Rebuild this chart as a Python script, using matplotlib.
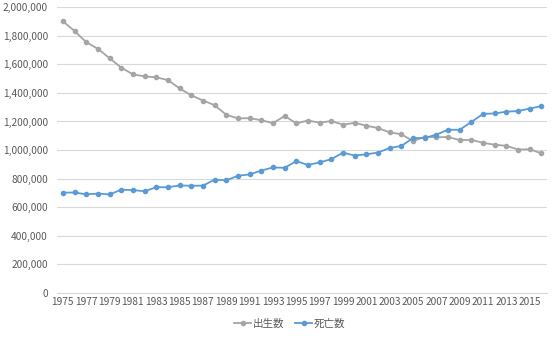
import numpy as np
import matplotlib
matplotlib.use('Agg')
import matplotlib.pyplot as plt
from matplotlib.ticker import FuncFormatter

plt.rcParams['font.family'] = ['Noto Sans CJK JP', 'DejaVu Sans']

years = list(range(1975, 2017))
births = [1901440, 1832617, 1755100, 1708643, 1642580, 1576889, 1529455, 1515392,
          1508687, 1489780, 1431577, 1382946, 1346658, 1314006, 1246802, 1221585,
          1223245, 1208989, 1188282, 1238328, 1187064, 1206555, 1191665, 1203147,
          1177669, 1190547, 1170662, 1153855, 1123610, 1110721, 1062530, 1092674,
          1089818, 1091156, 1070035, 1071304, 1050806, 1037231, 1029816, 1003539,
          1005677, 976978]
deaths = [702275, 703270, 690074, 695821, 689664, 722801, 720262, 711883,
          740038, 740247, 752283, 750620, 751172, 793014, 788594, 820305,
          829797, 856643, 878532, 875933, 922139, 896211, 913402, 936484,
          982031, 961653, 970331, 982379, 1014951, 1028602, 1083796, 1084450,
          1108334, 1142407, 1141865, 1197012, 1253066, 1256359, 1268436, 1273004,
          1290444, 1307748]
series_names = ['出生数', '死亡数']

txt = '#595959'
fig = plt.figure(figsize=(5.59, 3.38), dpi=100)
ax = fig.add_axes([0.102, 0.133, 0.877, 0.846])

x = np.arange(len(years))
ax.plot(x, births, color='#A5A5A5', lw=1.3, marker='o', ms=3, label=series_names[0])
ax.plot(x, deaths, color='#5B9BD5', lw=1.3, marker='o', ms=3, label=series_names[1])

ax.set_xlim(-0.5, len(years) - 0.5)
ax.set_ylim(0, 2000000)
ax.set_yticks(np.arange(0, 2000001, 200000))
ax.yaxis.set_major_formatter(FuncFormatter(lambda v, p: f'{int(v):,}'))
ax.set_xticks(x[::2])
ax.set_xticklabels([str(y) for y in years[::2]])
ax.grid(axis='y', color='#D9D9D9', lw=0.8)
ax.set_axisbelow(True)
for s in ['left', 'right', 'top']:
    ax.spines[s].set_visible(False)
ax.spines['bottom'].set_color('#D9D9D9')
ax.tick_params(axis='both', length=0, labelsize=7.3, colors=txt)
ax.tick_params(axis='y', pad=6.5)
ax.tick_params(axis='x', pad=3)

ax.legend(loc='upper center', bbox_to_anchor=(0.475, -0.055), ncol=2, frameon=False,
          fontsize=7.6, labelcolor=txt, handlelength=1.6, handletextpad=0.2, columnspacing=1.0)

fig.savefig('out.png', dpi=100)
